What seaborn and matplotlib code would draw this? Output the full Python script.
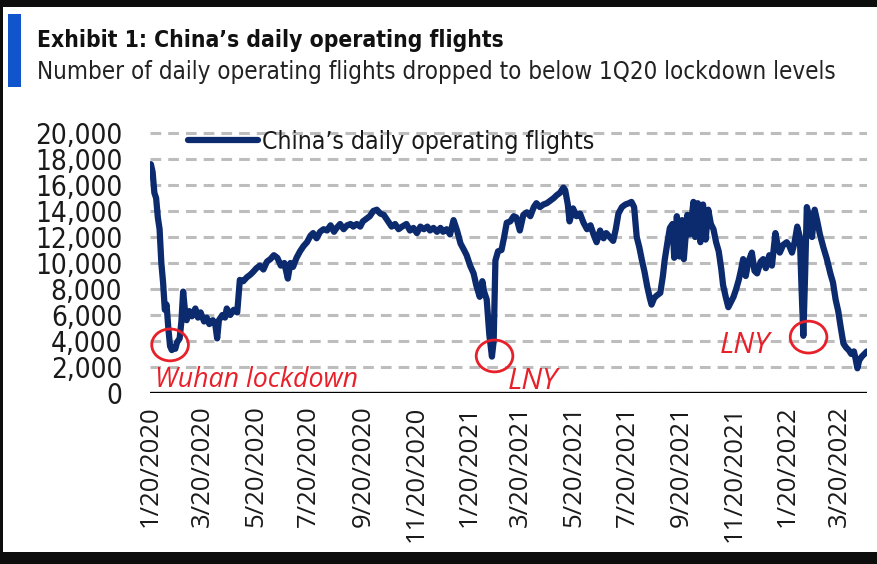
import pandas as pd
import numpy as np
import matplotlib
matplotlib.use("Agg")
import matplotlib.pyplot as plt
import matplotlib.dates as mdates
import matplotlib.patheffects as pe
from matplotlib.patches import Rectangle, Ellipse
from matplotlib.ticker import FuncFormatter
from matplotlib import font_manager
import seaborn as sns


# days since 1/20/2020 and daily operating flights
days_since_start = [
    1, 3, 5, 7, 9, 11, 13, 15, 17, 19, 21, 23, 25, 27, 29, 31, 34, 36, 38, 40,
    42, 45, 48, 52, 55, 58, 62, 65, 68, 72, 75, 77, 79, 83, 86, 88, 92, 96, 100, 103,
    107, 111, 115, 118, 122, 126, 130, 134, 138, 142, 146, 150, 154, 158, 161, 164, 168, 172, 176, 180,
    184, 187, 191, 195, 199, 203, 207, 211, 214, 218, 222, 226, 230, 233, 237, 241, 244, 248, 252, 256,
    260, 264, 268, 272, 277, 281, 285, 289, 294, 298, 302, 306, 310, 314, 318, 321, 325, 329, 333, 336,
    340, 344, 348, 352, 356, 360, 363, 367, 371, 374, 378, 381, 383, 386, 389, 392, 394, 396, 399, 403,
    406, 409, 413, 417, 420, 424, 428, 432, 436, 440, 443, 447, 451, 455, 459, 463, 466, 470, 474, 476,
    479, 481, 485, 489, 493, 497, 501, 505, 509, 512, 516, 520, 523, 527, 531, 534, 537, 541, 545, 549,
    552, 555, 558, 561, 564, 567, 570, 573, 575, 578, 581, 585, 588, 590, 593, 596, 599, 601, 604, 607,
    610, 612, 616, 619, 623, 625, 628, 631, 634, 637, 640, 643, 646, 649, 652, 655, 657, 660, 663, 666,
    669, 672, 675, 678, 680, 683, 686, 690, 693, 696, 700, 703, 706, 710, 713, 717, 720, 722, 726, 730,
    733, 736, 739, 742, 745, 747, 749, 751, 753, 756, 759, 762, 765, 768, 772, 776, 780, 783, 786, 789,
    792, 795, 798, 801, 804, 807, 809, 811, 813, 816, 819, 822,
]
flights = [
    17600, 17000, 15400, 15000, 13500, 12600, 10000, 8500, 6400, 6800, 5000, 3600, 3300, 3500, 3400, 3900, 4200, 5500, 7800, 6400,
    5600, 6300, 5900, 6500, 5800, 6200, 5500, 5800, 5300, 5600, 5200, 4200, 5600, 6000, 5800, 6500, 6000, 6400, 6200, 8700,
    8600, 8900, 9100, 9300, 9600, 9800, 9500, 10100, 10300, 10600, 10400, 9800, 10000, 8800, 10000, 9700, 10400, 10900, 11300, 11600,
    12100, 12300, 11900, 12400, 12600, 12500, 12900, 12400, 12700, 13000, 12600, 12900, 13000, 12800, 13000, 12800, 13200, 13400, 13600, 14000,
    14100, 13800, 13700, 13300, 12800, 13000, 12600, 12800, 13000, 12500, 12700, 12300, 12800, 12600, 12800, 12500, 12700, 12400, 12700, 12400,
    12600, 12200, 13300, 12500, 11500, 11000, 10600, 9800, 9200, 8300, 7400, 8600, 7800, 7200, 4500, 2800, 4000, 10200, 10900, 11000,
    12000, 13100, 13200, 13600, 13500, 12500, 13700, 13900, 13600, 14300, 14600, 14300, 14500, 14600, 14800, 15000, 15200, 15400, 15800, 15600,
    14500, 13200, 14200, 13600, 13800, 13100, 12600, 12900, 12100, 11600, 12500, 11900, 12300, 12000, 11700, 12600, 13800, 14300, 14500, 14600,
    14700, 14300, 12000, 11200, 10200, 9300, 8200, 7300, 6800, 7300, 7500, 7700, 9000, 10200, 11500, 12700, 13000, 10400, 13600, 10500,
    13300, 10300, 13700, 12200, 14700, 12000, 14600, 11600, 14500, 11800, 14100, 13000, 12600, 11600, 10900, 9500, 8300, 7400, 6600, 7000,
    7400, 8000, 8700, 9600, 10300, 9000, 10100, 10800, 9400, 9200, 10100, 10300, 9600, 10600, 9800, 12300, 11200, 10800, 11400, 11600,
    11300, 10800, 11600, 12800, 12000, 8000, 4400, 9000, 14300, 13500, 12000, 14100, 13200, 12200, 11200, 10300, 9200, 8500, 7200, 6300,
    5000, 3800, 3500, 3300, 3000, 3200, 2600, 1900, 2500, 2800, 3000, 3200,
]

tick_labels = ["1/20/2020", "3/20/2020", "5/20/2020", "7/20/2020", "9/20/2020", "11/20/2020",
               "1/20/2021", "3/20/2021", "5/20/2021", "7/20/2021", "9/20/2021", "11/20/2021",
               "1/20/2022", "3/20/2022"]
y_ticks = [0, 2000, 4000, 6000, 8000, 10000, 12000, 14000, 16000, 18000, 20000]

# circled events
event_dates = ["2020-02-12", "2021-02-18", "2022-02-13"]
event_values = [3700, 2850, 4300]

start = pd.Timestamp("2020-01-20")
df = pd.DataFrame({
    "Date": start + pd.to_timedelta(days_since_start, unit="D"),
    "Flights": flights,
})

sns.set_style("white")
plain = "Open Sans" if "Open Sans" in {f.name for f in font_manager.fontManager.ttflist} else "DejaVu Sans"
plt.rcParams["font.family"] = [plain, "DejaVu Sans"]


def find_font(keys, bold=False):
    # look for a narrow / condensed face on disk
    for k in keys:
        for f in font_manager.fontManager.ttflist:
            fn = f.fname.split("/")[-1].lower()
            if k in fn and (("bold" in fn) == bold) and "italic" not in fn and "oblique" not in fn:
                return font_manager.FontProperties(fname=f.fname)
    return None


keys = ["liberationsansnarrow", "dejavusanscondensed", "notosans-condensed", "opensans-condensed",
        "roboto-condensed", "robotocondensed", "condensed", "narrow"]
cond = find_font(keys)
cond_bold = find_font(keys, bold=True)
found = cond is not None
if cond is None:
    cond = font_manager.FontProperties(family="DejaVu Sans")
if cond_bold is None:
    cond_bold = font_manager.FontProperties(family=cond.get_family(), weight="bold")

navy = "#0c2a6e"
red = "#e8202a"
W, H = 878, 564

fig = plt.figure(figsize=(W / 100, H / 100), dpi=100, facecolor="#0d0d0d")
fig.patches.append(Rectangle((3 / W, 12 / H), (W - 3) / W, 545 / H, transform=fig.transFigure,
                             facecolor="white", edgecolor="none", zorder=-10))
fig.patches.append(Rectangle((8 / W, (H - 87) / H), 13 / W, 73 / H, transform=fig.transFigure,
                             facecolor="#1155cc", edgecolor="none", zorder=-5))

ax_left, ax_right, ax_top, ax_bot = 150, 867, 126.5, 393
ax = fig.add_axes([ax_left / W, (H - ax_bot) / H, (ax_right - ax_left) / W, (ax_bot - ax_top) / H])
ax.set_facecolor("none")

sns.lineplot(data=df, x="Date", y="Flights", ax=ax, color=navy, linewidth=4.5,
             label="China\u2019s daily operating flights", zorder=3)

ax.set_ylim(0, 20500)
ax.set_xlim(start, start + pd.Timedelta(days=822))
ax.set_yticks(y_ticks)
ax.yaxis.set_major_formatter(FuncFormatter(lambda v, p: f"{v:,.0f}"))
ax.set_xticks(pd.to_datetime(tick_labels, format="%m/%d/%Y"))
ax.set_xticklabels(tick_labels, rotation=90, fontsize=18.5, color="#1a1a1a", va="top", ha="center")
ax.tick_params(axis="y", length=0, pad=20)
ax.tick_params(axis="x", length=0, pad=9)
ax.set_xlabel("")
ax.set_ylabel("")

r = fig.canvas.get_renderer()


def fit(txt, target):
    w = txt.get_window_extent(r).width
    txt.set_fontsize(txt.get_fontsize() * target / w)


fig.canvas.draw()
ylabs = ax.get_yticklabels()
for t in ylabs:
    t.set_fontproperties(cond)
    t.set_fontsize(20 if found else 16)
    t.set_color("#1a1a1a")

ax.yaxis.grid(True, color="#bdbdbd", linewidth=2.2, dashes=(3.5, 2.3))
ax.xaxis.grid(False)
ax.set_axisbelow(True)
for s in ax.spines.values():
    s.set_visible(False)
ax.axhline(0, color="black", linewidth=2.4, zorder=4,
           path_effects=[pe.SimpleLineShadow(offset=(0, -1.5), shadow_color="gray", alpha=0.7), pe.Normal()])

# red circles and labels
for d, v in zip(event_dates, event_values):
    ax.add_patch(Ellipse((mdates.date2num(pd.Timestamp(d)), v), width=42, height=2450,
                         facecolor="none", edgecolor=red, linewidth=2, zorder=5))

leg = ax.legend(loc="center left", bbox_to_anchor=(0.053, 0.942), frameon=False, fontsize=18,
                handlelength=2.8, handletextpad=0.15, borderpad=0, borderaxespad=0)
for t in leg.get_texts():
    t.set_color("#1a1a1a")
    t.set_fontproperties(cond)
    t.set_fontsize(18)
    fit(t, 331)

ann = [("Wuhan lockdown", 0.007, 0.049, 203), ("LNY", 0.499, 0.045, 50), ("LNY", 0.795, 0.18, 50)]
for s, x, y, wpx in ann:
    t = ax.text(x, y, s, transform=ax.transAxes, color=red, fontstyle="italic", fontsize=20,
                va="center", ha="left", zorder=6)
    fit(t, wpx)

title = fig.text(37 / W, 1 - 40 / H, "Exhibit 1: China\u2019s daily operating flights",
                 fontproperties=cond_bold, va="center", color="#111111")
title.set_fontsize(20)
fit(title, 465)
sub = fig.text(37 / W, 1 - 72 / H, "Number of daily operating flights dropped to below 1Q20 lockdown levels",
               fontproperties=cond, va="center", color="#222222")
sub.set_fontsize(20)
fit(sub, 798)

fig.savefig("out.png", dpi=100, facecolor=fig.get_facecolor())
